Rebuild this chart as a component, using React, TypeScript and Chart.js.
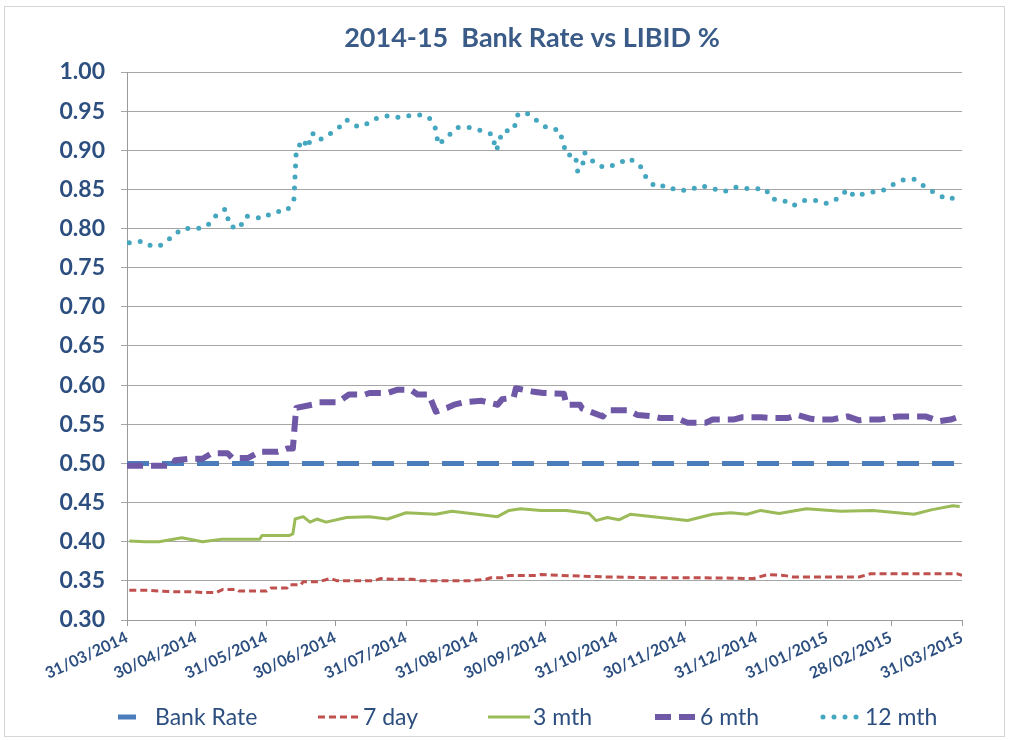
import { useEffect, useRef } from "react";
import { Chart, registerables } from "chart.js";

Chart.register(...registerables);

const TITLE = "2014-15  Bank Rate vs LIBID %";
const SERIES_NAMES = ["Bank Rate", "7 day", "3 mth", "6 mth", "12 mth"];

// x axis: days since 31/03/2014, ticks at month ends
const TICK_DAYS = [0, 30, 61, 91, 122, 153, 183, 214, 244, 275, 306, 334, 365];
const TICK_LABELS = [
  "31/03/2014", "30/04/2014", "31/05/2014", "30/06/2014", "31/07/2014", "31/08/2014",
  "30/09/2014", "31/10/2014", "30/11/2014", "31/12/2014", "31/01/2015", "28/02/2015", "31/03/2015",
];
const Y_TICKS = [0.3, 0.35, 0.4, 0.45, 0.5, 0.55, 0.6, 0.65, 0.7, 0.75, 0.8, 0.85, 0.9, 0.95, 1.0];

const bankDays = [0, 365];
const bankVals = [0.5, 0.5];

const d7Days = [1, 9, 14, 22, 29, 33, 39, 42, 48, 49, 61, 63, 70, 71, 76, 77, 84, 89, 92, 108, 111, 116, 125, 128, 149, 157, 159, 164, 167, 179, 181, 189, 210, 229, 250, 274, 280, 287, 291, 320, 325, 363, 365];
const d7Vals = [0.338, 0.338, 0.337, 0.336, 0.336, 0.335, 0.335, 0.339, 0.339, 0.337, 0.337, 0.341, 0.341, 0.345, 0.345, 0.349, 0.349, 0.353, 0.35, 0.35, 0.353, 0.352, 0.352, 0.35, 0.35, 0.352, 0.354, 0.354, 0.357, 0.357, 0.358, 0.357, 0.355, 0.354, 0.354, 0.353, 0.358, 0.357, 0.355, 0.355, 0.359, 0.359, 0.357];

const m3Days = [1, 8, 14, 24, 33, 41, 58, 59, 71, 72.5, 73.5, 77, 80, 83, 87, 96, 106, 114, 122, 135, 142, 153, 162, 167, 172, 181, 192, 202, 205, 210, 215, 220, 230, 239, 245, 256, 264, 271, 277, 285, 297, 312, 326, 344, 352, 361, 364];
const m3Vals = [0.401, 0.4, 0.4, 0.405, 0.4, 0.403, 0.403, 0.408, 0.408, 0.41, 0.429, 0.432, 0.425, 0.429, 0.425, 0.431, 0.432, 0.429, 0.437, 0.435, 0.439, 0.435, 0.432, 0.44, 0.442, 0.44, 0.44, 0.436, 0.427, 0.431, 0.428, 0.435, 0.432, 0.429, 0.427, 0.435, 0.437, 0.435, 0.44, 0.436, 0.442, 0.439, 0.44, 0.435, 0.441, 0.446, 0.445];

const m6Days = [0, 10, 14, 20, 21, 28, 33, 37, 44, 46, 53, 58, 66, 70, 72.5, 73, 73.5, 74, 81, 84, 92, 97, 104, 106, 114, 118, 124, 127, 132, 135, 140, 143, 147, 155, 162, 164, 169, 170, 177, 182, 191, 192, 198, 199, 208, 210, 219, 223, 230, 233, 240, 245, 253, 256, 265, 269, 277, 282, 289, 293, 299, 302, 308, 315, 320, 323, 329, 337, 344, 349, 355, 360, 364];
const m6Vals = [0.497, 0.497, 0.497, 0.497, 0.504, 0.506, 0.506, 0.513, 0.513, 0.507, 0.507, 0.515, 0.515, 0.519, 0.519, 0.537, 0.555, 0.571, 0.575, 0.578, 0.578, 0.588, 0.588, 0.59, 0.59, 0.594, 0.594, 0.588, 0.588, 0.566, 0.571, 0.575, 0.578, 0.58, 0.575, 0.582, 0.584, 0.596, 0.592, 0.59, 0.589, 0.575, 0.575, 0.57, 0.56, 0.568, 0.568, 0.562, 0.56, 0.558, 0.558, 0.552, 0.552, 0.556, 0.556, 0.559, 0.559, 0.558, 0.558, 0.562, 0.557, 0.556, 0.556, 0.56, 0.555, 0.556, 0.556, 0.56, 0.56, 0.56, 0.554, 0.556, 0.56];

const m12Days = [1, 7, 11, 15, 20, 24, 31, 35, 39, 43, 45, 49, 52, 59, 64, 70, 73, 73.5, 74, 77, 79, 81, 84, 87, 92, 96, 101, 105, 108, 114, 119, 125, 129, 132, 135, 136, 140, 144, 150, 155, 160, 161, 162, 164, 169, 171, 175, 180, 184, 189, 191, 192, 196, 197, 199, 200, 205, 209, 215, 219, 224, 227, 231, 236, 240, 246, 251, 256, 261, 266, 272, 279, 282, 287, 291, 296, 301, 306, 311, 315, 318, 324, 330, 334, 339, 344, 349, 354, 359, 364];
const m12Vals = [0.782, 0.784, 0.777, 0.779, 0.79, 0.8, 0.8, 0.803, 0.817, 0.825, 0.803, 0.8, 0.816, 0.813, 0.821, 0.823, 0.838, 0.87, 0.9, 0.914, 0.903, 0.922, 0.913, 0.918, 0.927, 0.939, 0.93, 0.934, 0.94, 0.944, 0.942, 0.945, 0.945, 0.942, 0.927, 0.907, 0.917, 0.929, 0.929, 0.925, 0.92, 0.9, 0.904, 0.924, 0.926, 0.947, 0.947, 0.936, 0.928, 0.926, 0.906, 0.894, 0.894, 0.873, 0.878, 0.897, 0.882, 0.878, 0.883, 0.89, 0.882, 0.865, 0.853, 0.855, 0.849, 0.849, 0.855, 0.851, 0.847, 0.853, 0.851, 0.851, 0.838, 0.836, 0.829, 0.836, 0.836, 0.832, 0.839, 0.85, 0.841, 0.846, 0.848, 0.855, 0.862, 0.863, 0.853, 0.844, 0.837, 0.842];

const COLORS = ["#4a7dba", "#c0504d", "#9bbb59", "#6f58a6", "#45a7bf"];
const WIDTHS = [5, 3, 3, 6, 5];
const DASHES = [[22, 13], [7, 4], [], [16, 8], [0, 11]];
const CAPS = ["butt", "butt", "butt", "butt", "round"];
const TEXT_COLOR = "#2c4f80";
const FONT = "Lato, 'Open Sans', sans-serif";

const pts = (xs: number[], ys: number[]) => xs.map((x, i) => ({ x, y: ys[i] }));

const decorPlugin = {
  id: "decor",
  afterDraw(chart: any) {
    const ctx = chart.ctx as CanvasRenderingContext2D;
    ctx.save();
    // frame
    ctx.strokeStyle = "#d6d6d6";
    ctx.lineWidth = 1;
    ctx.strokeRect(4.5, 6.5, 1000, 730);
    // title
    ctx.fillStyle = "#3a5b87";
    ctx.font = `bold 27px ${FONT}`;
    ctx.textAlign = "center";
    ctx.textBaseline = "middle";
    ctx.fillText(TITLE, 532, 38);
    // legend
    const starts = [118, 318, 488, 655, 820];
    const ends = [136, 358, 530, 697, 860];
    const textX = [155, 363, 533, 700, 865];
    const y = 717;
    ctx.font = `23px ${FONT}`;
    ctx.textAlign = "left";
    SERIES_NAMES.forEach((name, i) => {
      ctx.beginPath();
      ctx.strokeStyle = COLORS[i];
      ctx.lineWidth = WIDTHS[i];
      ctx.setLineDash(i === 0 ? [] : DASHES[i]);
      ctx.lineCap = CAPS[i] as CanvasLineCap;
      ctx.moveTo(starts[i] + (i === 4 ? 3 : 0), y);
      ctx.lineTo(ends[i], y);
      ctx.stroke();
      ctx.setLineDash([]);
      ctx.fillStyle = TEXT_COLOR;
      ctx.fillText(name, textX[i], y + 1);
    });
    ctx.restore();
  },
};

export default function App() {
  const ref = useRef<HTMLCanvasElement | null>(null);
  useEffect(() => {
    if (!ref.current) return;
    const series = [
      pts(bankDays, bankVals),
      pts(d7Days, d7Vals),
      pts(m3Days, m3Vals),
      pts(m6Days, m6Vals),
      pts(m12Days, m12Vals),
    ];
    const chart = new Chart(ref.current, {
      type: "line",
      data: {
        datasets: series.map((data, i) => ({
          label: SERIES_NAMES[i],
          data,
          borderColor: COLORS[i],
          backgroundColor: COLORS[i],
          borderWidth: WIDTHS[i],
          borderDash: DASHES[i],
          borderCapStyle: CAPS[i] as any,
          borderJoinStyle: "round" as any,
          pointRadius: 0,
          tension: 0,
          fill: false,
          order: 5 - i,
        })),
      },
      options: {
        animation: false,
        responsive: false,
        maintainAspectRatio: false,
        layout: { padding: { left: 0, right: 51, top: 72, bottom: 0 } },
        plugins: {
          legend: { display: false },
          title: { display: false },
          tooltip: { enabled: false },
        },
        scales: {
          x: {
            type: "linear",
            min: 0,
            max: 365,
            afterBuildTicks: (s: any) => {
              s.ticks = TICK_DAYS.map((v) => ({ value: v }));
            },
            afterFit: (s: any) => {
              s.height = 120;
            },
            ticks: {
              autoSkip: false,
              minRotation: 25,
              maxRotation: 25,
              padding: 2,
              color: TEXT_COLOR,
              font: { family: FONT, size: 16, weight: "bold" },
              callback: (v: any) => {
                const k = TICK_DAYS.indexOf(Number(v));
                return k >= 0 ? TICK_LABELS[k] : "";
              },
            },
            grid: { drawOnChartArea: false, tickLength: 6, color: "#9a9a9a" },
            border: { color: "#9a9a9a" },
          },
          y: {
            min: 0.3,
            max: 1.0,
            afterBuildTicks: (s: any) => {
              s.ticks = Y_TICKS.map((v) => ({ value: v }));
            },
            afterFit: (s: any) => {
              s.width = 127;
            },
            ticks: {
              padding: 16,
              color: TEXT_COLOR,
              font: { family: FONT, size: 23, weight: "bold" },
              callback: (v: any) => Number(v).toFixed(2),
            },
            grid: { color: "#a6a6a6", tickLength: 6 },
            border: { color: "#9a9a9a" },
          },
        },
      },
      plugins: [decorPlugin],
    });
    return () => chart.destroy();
  }, []);
  return (
    <canvas
      ref={ref}
      width={1013}
      height={740}
      style={{ position: "fixed", left: 0, top: 0, width: 1013, height: 740, background: "#fff" }}
    />
  );
}
